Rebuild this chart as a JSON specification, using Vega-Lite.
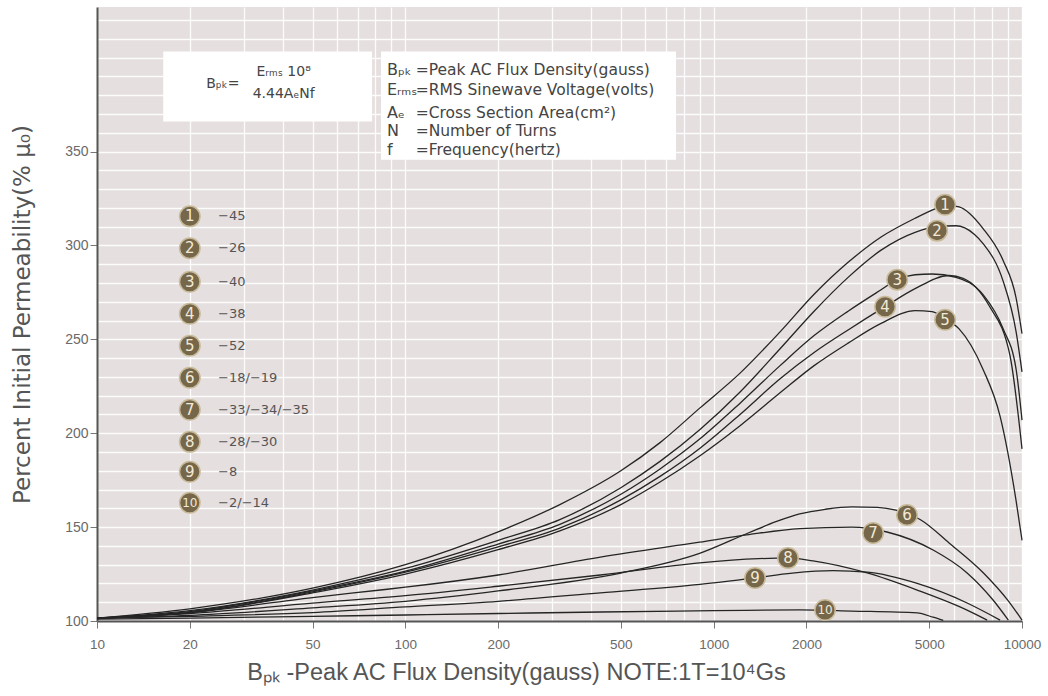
{
  "$schema": "https://vega.github.io/schema/vega-lite/v6.json",
  "width": 925,
  "height": 614,
  "autosize": {"type": "none"},
  "padding": {"left": 97, "top": 7, "right": 26, "bottom": 75},
  "background": "#ffffff",
  "view": {"fill": "#e6dfdf", "stroke": null},
  "config": {"font": "Liberation Sans"},
  "datasets": {
    "curves": [
      {"c": 1, "x": 10, "y": 101.5}, {"c": 1, "x": 20, "y": 106.5}, {"c": 1, "x": 50, "y": 117.5}, {"c": 1, "x": 100, "y": 130}, {"c": 1, "x": 200, "y": 147.5}, {"c": 1, "x": 317, "y": 162}, {"c": 1, "x": 500, "y": 180}, {"c": 1, "x": 670, "y": 195}, {"c": 1, "x": 903, "y": 213.5}, {"c": 1, "x": 1218, "y": 232}, {"c": 1, "x": 1642, "y": 254}, {"c": 1, "x": 2117, "y": 274}, {"c": 1, "x": 2729, "y": 291}, {"c": 1, "x": 3491, "y": 304.5}, {"c": 1, "x": 4501, "y": 314.5}, {"c": 1, "x": 5224, "y": 319.5}, {"c": 1, "x": 5630, "y": 321.5}, {"c": 1, "x": 6252, "y": 320.5}, {"c": 1, "x": 7478, "y": 309}, {"c": 1, "x": 8685, "y": 292}, {"c": 1, "x": 9570, "y": 272}, {"c": 1, "x": 10000, "y": 253},
      {"c": 2, "x": 10, "y": 101.5}, {"c": 2, "x": 20, "y": 105.5}, {"c": 2, "x": 50, "y": 116.5}, {"c": 2, "x": 100, "y": 128}, {"c": 2, "x": 200, "y": 143}, {"c": 2, "x": 317, "y": 154}, {"c": 2, "x": 500, "y": 171}, {"c": 2, "x": 670, "y": 185}, {"c": 2, "x": 903, "y": 202}, {"c": 2, "x": 1218, "y": 222}, {"c": 2, "x": 1642, "y": 245}, {"c": 2, "x": 2117, "y": 265}, {"c": 2, "x": 2729, "y": 283}, {"c": 2, "x": 3491, "y": 297.5}, {"c": 2, "x": 4501, "y": 307}, {"c": 2, "x": 5300, "y": 310}, {"c": 2, "x": 6109, "y": 310.5}, {"c": 2, "x": 7000, "y": 306}, {"c": 2, "x": 7478, "y": 301}, {"c": 2, "x": 8685, "y": 281}, {"c": 2, "x": 9570, "y": 254}, {"c": 2, "x": 10000, "y": 232.7},
      {"c": 3, "x": 10, "y": 101.5}, {"c": 3, "x": 20, "y": 105}, {"c": 3, "x": 50, "y": 116}, {"c": 3, "x": 100, "y": 126.5}, {"c": 3, "x": 200, "y": 141}, {"c": 3, "x": 317, "y": 151.5}, {"c": 3, "x": 500, "y": 167.5}, {"c": 3, "x": 670, "y": 181}, {"c": 3, "x": 903, "y": 197}, {"c": 3, "x": 1218, "y": 216}, {"c": 3, "x": 1642, "y": 236}, {"c": 3, "x": 2117, "y": 252}, {"c": 3, "x": 2729, "y": 265}, {"c": 3, "x": 3491, "y": 276.4}, {"c": 3, "x": 3936, "y": 281.8}, {"c": 3, "x": 4501, "y": 284.4}, {"c": 3, "x": 5110, "y": 284.8}, {"c": 3, "x": 6109, "y": 283}, {"c": 3, "x": 7478, "y": 273.8}, {"c": 3, "x": 8685, "y": 255.6}, {"c": 3, "x": 9570, "y": 234}, {"c": 3, "x": 10000, "y": 207},
      {"c": 4, "x": 10, "y": 101.5}, {"c": 4, "x": 20, "y": 104.5}, {"c": 4, "x": 50, "y": 115.5}, {"c": 4, "x": 100, "y": 126}, {"c": 4, "x": 200, "y": 139.5}, {"c": 4, "x": 317, "y": 149.5}, {"c": 4, "x": 500, "y": 164.5}, {"c": 4, "x": 670, "y": 177}, {"c": 4, "x": 903, "y": 192}, {"c": 4, "x": 1218, "y": 210}, {"c": 4, "x": 1642, "y": 229}, {"c": 4, "x": 2117, "y": 243}, {"c": 4, "x": 2729, "y": 255}, {"c": 4, "x": 3597, "y": 267.4}, {"c": 4, "x": 4501, "y": 277}, {"c": 4, "x": 5800, "y": 284}, {"c": 4, "x": 6442, "y": 282.5}, {"c": 4, "x": 7817, "y": 268}, {"c": 4, "x": 9141, "y": 241.4}, {"c": 4, "x": 10000, "y": 191.7},
      {"c": 5, "x": 10, "y": 101.5}, {"c": 5, "x": 20, "y": 104.5}, {"c": 5, "x": 50, "y": 115}, {"c": 5, "x": 100, "y": 125}, {"c": 5, "x": 200, "y": 138}, {"c": 5, "x": 317, "y": 148}, {"c": 5, "x": 500, "y": 162}, {"c": 5, "x": 670, "y": 174}, {"c": 5, "x": 903, "y": 188}, {"c": 5, "x": 1218, "y": 204}, {"c": 5, "x": 1642, "y": 221.5}, {"c": 5, "x": 2117, "y": 236}, {"c": 5, "x": 2729, "y": 248}, {"c": 5, "x": 3491, "y": 258.5}, {"c": 5, "x": 4501, "y": 265.3}, {"c": 5, "x": 5110, "y": 264.8}, {"c": 5, "x": 5630, "y": 261}, {"c": 5, "x": 6252, "y": 255.6}, {"c": 5, "x": 7478, "y": 234}, {"c": 5, "x": 8492, "y": 209}, {"c": 5, "x": 9570, "y": 164}, {"c": 5, "x": 10000, "y": 143},
      {"c": 6, "x": 10, "y": 101.5}, {"c": 6, "x": 20, "y": 103}, {"c": 6, "x": 50, "y": 107}, {"c": 6, "x": 100, "y": 110.5}, {"c": 6, "x": 200, "y": 116}, {"c": 6, "x": 500, "y": 125.5}, {"c": 6, "x": 900, "y": 136}, {"c": 6, "x": 1300, "y": 147}, {"c": 6, "x": 1600, "y": 153}, {"c": 6, "x": 1900, "y": 157}, {"c": 6, "x": 2300, "y": 159.5}, {"c": 6, "x": 2800, "y": 160.8}, {"c": 6, "x": 3400, "y": 160.5}, {"c": 6, "x": 3900, "y": 159}, {"c": 6, "x": 4700, "y": 153.8}, {"c": 6, "x": 5800, "y": 141.6}, {"c": 6, "x": 7500, "y": 125.6}, {"c": 6, "x": 9000, "y": 111}, {"c": 6, "x": 10000, "y": 100.5},
      {"c": 7, "x": 10, "y": 101.5}, {"c": 7, "x": 20, "y": 104.5}, {"c": 7, "x": 50, "y": 112.5}, {"c": 7, "x": 83, "y": 116.5}, {"c": 7, "x": 100, "y": 118}, {"c": 7, "x": 200, "y": 124.5}, {"c": 7, "x": 429, "y": 134}, {"c": 7, "x": 900, "y": 142}, {"c": 7, "x": 1300, "y": 146}, {"c": 7, "x": 1900, "y": 149.2}, {"c": 7, "x": 2800, "y": 150}, {"c": 7, "x": 3648, "y": 147.4}, {"c": 7, "x": 5149, "y": 137.8}, {"c": 7, "x": 6637, "y": 125.6}, {"c": 7, "x": 8055, "y": 111.2}, {"c": 7, "x": 9030, "y": 100.5},
      {"c": 8, "x": 10, "y": 101.5}, {"c": 8, "x": 20, "y": 104}, {"c": 8, "x": 50, "y": 109.5}, {"c": 8, "x": 100, "y": 113.5}, {"c": 8, "x": 200, "y": 118.5}, {"c": 8, "x": 429, "y": 124.5}, {"c": 8, "x": 900, "y": 131}, {"c": 8, "x": 1400, "y": 133.2}, {"c": 8, "x": 1742, "y": 133.6}, {"c": 8, "x": 2100, "y": 132}, {"c": 8, "x": 3145, "y": 125.6}, {"c": 8, "x": 4571, "y": 116.5}, {"c": 8, "x": 6295, "y": 107.5}, {"c": 8, "x": 7709, "y": 100.5},
      {"c": 9, "x": 10, "y": 101.5}, {"c": 9, "x": 20, "y": 102.5}, {"c": 9, "x": 50, "y": 104.5}, {"c": 9, "x": 100, "y": 107.5}, {"c": 9, "x": 200, "y": 110.5}, {"c": 9, "x": 429, "y": 115}, {"c": 9, "x": 903, "y": 119.5}, {"c": 9, "x": 1362, "y": 123}, {"c": 9, "x": 1800, "y": 125.5}, {"c": 9, "x": 2438, "y": 126.8}, {"c": 9, "x": 3145, "y": 126}, {"c": 9, "x": 4571, "y": 120}, {"c": 9, "x": 6637, "y": 109.6}, {"c": 9, "x": 8492, "y": 100.5},
      {"c": 10, "x": 10, "y": 101}, {"c": 10, "x": 20, "y": 101.5}, {"c": 10, "x": 50, "y": 102.5}, {"c": 10, "x": 100, "y": 103.2}, {"c": 10, "x": 200, "y": 104}, {"c": 10, "x": 429, "y": 104.8}, {"c": 10, "x": 1000, "y": 105.5}, {"c": 10, "x": 1900, "y": 105.9}, {"c": 10, "x": 2800, "y": 105.3}, {"c": 10, "x": 4571, "y": 104.3}, {"c": 10, "x": 5149, "y": 102}, {"c": 10, "x": 5553, "y": 100.3}
    ],
    "curveLabels": [
      {"n": "1", "x": 5630, "y": 321.7}, {"n": "2", "x": 5304, "y": 307.9}, {"n": "3", "x": 3936, "y": 281.8}, {"n": "4", "x": 3597, "y": 267.4}, {"n": "5", "x": 5630, "y": 260.4},
      {"n": "6", "x": 4236, "y": 156.5}, {"n": "7", "x": 3289, "y": 146.9}, {"n": "8", "x": 1742, "y": 133.6}, {"n": "9", "x": 1362, "y": 122.9}, {"n": "10", "x": 2297, "y": 105.9}
    ],
    "legend": [
      {"n": "1", "grade": "−45", "y": 315.5}, {"n": "2", "grade": "−26", "y": 298.5}, {"n": "3", "grade": "−40", "y": 280.7}, {"n": "4", "grade": "−38", "y": 263.6}, {"n": "5", "grade": "−52", "y": 246.6},
      {"n": "6", "grade": "−18/−19", "y": 229.5}, {"n": "7", "grade": "−33/−34/−35", "y": 212.5}, {"n": "8", "grade": "−28/−30", "y": 195.4}, {"n": "9", "grade": "−8", "y": 179.5}, {"n": "10", "grade": "−2/−14", "y": 163.0}
    ],
    "boxes": [
      {"x": 16.4, "x2": 78, "y": 366, "y2": 403.3},
      {"x": 83.4, "x2": 755, "y": 345.7, "y2": 403.3}
    ],
    "formula": [
      {"t": "Bₚₖ=", "x": 25.6, "y": 386.2},
      {"t": "Eᵣₘₛ 10⁸", "x": 40.3, "y": 392.3},
      {"t": "4.44AₑNf", "x": 40.3, "y": 380.4}
    ],
    "defs": [
      {"s": "Bₚₖ", "d": "=Peak AC Flux Density(gauss)", "y": 393.7},
      {"s": "Eᵣₘₛ", "d": "=RMS Sinewave Voltage(volts)", "y": 383.0},
      {"s": "Aₑ", "d": "=Cross Section Area(cm²)", "y": 370.8},
      {"s": "N", "d": "=Number of Turns", "y": 361.2},
      {"s": "f", "d": "=Frequency(hertz)", "y": 351.1}
    ]
  },
  "layer": [
    {
      "data": {"name": "boxes"},
      "mark": {"type": "rect", "fill": "#ffffff", "stroke": null},
      "encoding": {
        "x": {"field": "x", "type": "quantitative"},
        "x2": {"field": "x2"},
        "y": {"field": "y", "type": "quantitative"},
        "y2": {"field": "y2"}
      }
    },
    {
      "data": {"name": "curves"},
      "mark": {"type": "line", "color": "#252525", "strokeWidth": 1.3, "interpolate": "monotone"},
      "encoding": {
        "x": {
          "field": "x", "type": "quantitative",
          "scale": {"type": "log", "domain": [10, 10000], "nice": false},
          "axis": {
            "title": "Bₚₖ -Peak AC Flux Density(gauss)  NOTE:1T=10⁴Gs",
            "values": [10, 20, 30, 40, 50, 60, 70, 80, 90, 100, 200, 300, 400, 500, 600, 700, 800, 900, 1000, 2000, 3000, 4000, 5000, 6000, 7000, 8000, 9000, 10000],
            "tickCount": 200,
            "format": "d",
            "labelExpr": "indexof([10,20,50,100,200,500,1000,2000,5000,10000], datum.value) >= 0 ? datum.label : ''",
            "labelOverlap": false,
            "labelFlush": false,
            "labelBound": false,
            "labelFont": "Liberation Sans",
            "labelFontSize": 13.5,
            "labelColor": "#6a6a6a",
            "labelPadding": 9,
            "tickSize": 7,
            "tickColor": "#777777",
            "tickOpacity": {"condition": {"test": "indexof([10,20,50,100,200,500,1000,2000,5000,10000], datum.value) >= 0", "value": 1}, "value": 0},
            "domainColor": "#555555",
            "domainWidth": 2,
            "grid": true,
            "gridColor": "#ffffff",
            "gridOpacity": 0.9,
            "gridWidth": 1.3,
            "titleFont": "Liberation Sans",
            "titleFontSize": 23.5,
            "titleFontWeight": "normal",
            "titleColor": "#555555",
            "titleX": 419,
            "titleY": 51,
            "titleAlign": "center",
            "titleBaseline": "middle"
          }
        },
        "y": {
          "field": "y", "type": "quantitative",
          "scale": {"domain": [100, 427], "nice": false, "zero": false},
          "axis": {
            "title": "Percent Initial Permeability(% μ₀)",
            "values": [100, 110, 120, 130, 140, 150, 160, 170, 180, 190, 200, 210, 220, 230, 240, 250, 260, 270, 280, 290, 300, 310, 320, 330, 340, 350, 360, 370, 380, 390, 400, 410, 420],
            "tickCount": 200,
            "labelExpr": "(datum.value % 50 == 0 && datum.value <= 350) ? datum.label : ''",
            "labelOverlap": false,
            "labelFlush": false,
            "labelFont": "Liberation Sans",
            "labelFontSize": 14,
            "labelColor": "#6a6a6a",
            "labelPadding": 2,
            "tickSize": 7,
            "tickColor": "#777777",
            "tickOpacity": {"condition": {"test": "datum.value % 50 == 0 && datum.value <= 350", "value": 1}, "value": 0},
            "domainColor": "#555555",
            "domainWidth": 2,
            "grid": true,
            "gridColor": "#ffffff",
            "gridOpacity": 0.9,
            "gridWidth": 1.3,
            "titleFont": "DejaVu Sans",
            "titleFontSize": 23,
            "titleFontWeight": "normal",
            "titleColor": "#555555",
            "titleX": -75,
            "titleY": 307,
            "titleAngle": -90,
            "titleAlign": "center",
            "titleBaseline": "middle"
          }
        },
        "detail": {"field": "c", "type": "nominal"}
      }
    },
    {
      "data": {"name": "formula"},
      "mark": {"type": "text", "font": "DejaVu Sans", "fontSize": 14, "color": "#444444", "baseline": "middle", "align": "center"},
      "encoding": {
        "x": {"field": "x", "type": "quantitative"},
        "y": {"field": "y", "type": "quantitative"},
        "text": {"field": "t"}
      }
    },
    {
      "mark": {"type": "rule", "color": "#444444", "strokeWidth": 1},
      "encoding": {
        "x": {"datum": 30.9},
        "x2": {"datum": 51.7},
        "y": {"datum": 387.2}
      }
    },
    {
      "data": {"name": "defs"},
      "mark": {"type": "text", "font": "DejaVu Sans", "fontSize": 16, "color": "#444444", "baseline": "middle", "align": "left"},
      "encoding": {
        "x": {"datum": 87.2},
        "y": {"field": "y", "type": "quantitative"},
        "text": {"field": "s"}
      }
    },
    {
      "data": {"name": "defs"},
      "mark": {"type": "text", "font": "DejaVu Sans", "fontSize": 15.5, "color": "#444444", "baseline": "middle", "align": "left"},
      "encoding": {
        "x": {"datum": 108},
        "y": {"field": "y", "type": "quantitative"},
        "text": {"field": "d"}
      }
    },
    {
      "data": {"name": "legend"},
      "mark": {"type": "circle", "size": 420, "fill": "#76664a", "stroke": "#c8bb9a", "strokeWidth": 1.5, "opacity": 1},
      "encoding": {
        "x": {"datum": 20},
        "y": {"field": "y", "type": "quantitative"}
      }
    },
    {
      "data": {"name": "legend"},
      "mark": {"type": "text", "font": "DejaVu Sans", "color": "#f2ead6", "baseline": "middle", "align": "center"},
      "encoding": {
        "x": {"datum": 20},
        "y": {"field": "y", "type": "quantitative"},
        "text": {"field": "n"},
        "size": {"condition": {"test": "datum.n == '10'", "value": 12}, "value": 15}
      }
    },
    {
      "data": {"name": "legend"},
      "mark": {"type": "text", "font": "DejaVu Sans", "fontSize": 13, "color": "#555555", "baseline": "middle", "align": "left"},
      "encoding": {
        "x": {"datum": 24.7},
        "y": {"field": "y", "type": "quantitative"},
        "text": {"field": "grade"}
      }
    },
    {
      "data": {"name": "curveLabels"},
      "mark": {"type": "circle", "size": 420, "fill": "#76664a", "stroke": "#c8bb9a", "strokeWidth": 1.5, "opacity": 1},
      "encoding": {
        "x": {"field": "x", "type": "quantitative"},
        "y": {"field": "y", "type": "quantitative"}
      }
    },
    {
      "data": {"name": "curveLabels"},
      "mark": {"type": "text", "font": "DejaVu Sans", "color": "#f2ead6", "baseline": "middle", "align": "center"},
      "encoding": {
        "x": {"field": "x", "type": "quantitative"},
        "y": {"field": "y", "type": "quantitative"},
        "text": {"field": "n"},
        "size": {"condition": {"test": "datum.n == '10'", "value": 12}, "value": 15}
      }
    },
    {
      "mark": {"type": "rule", "color": "#555555", "strokeWidth": 2},
      "encoding": {
        "y": {"datum": 427}
      }
    }
  ]
}
